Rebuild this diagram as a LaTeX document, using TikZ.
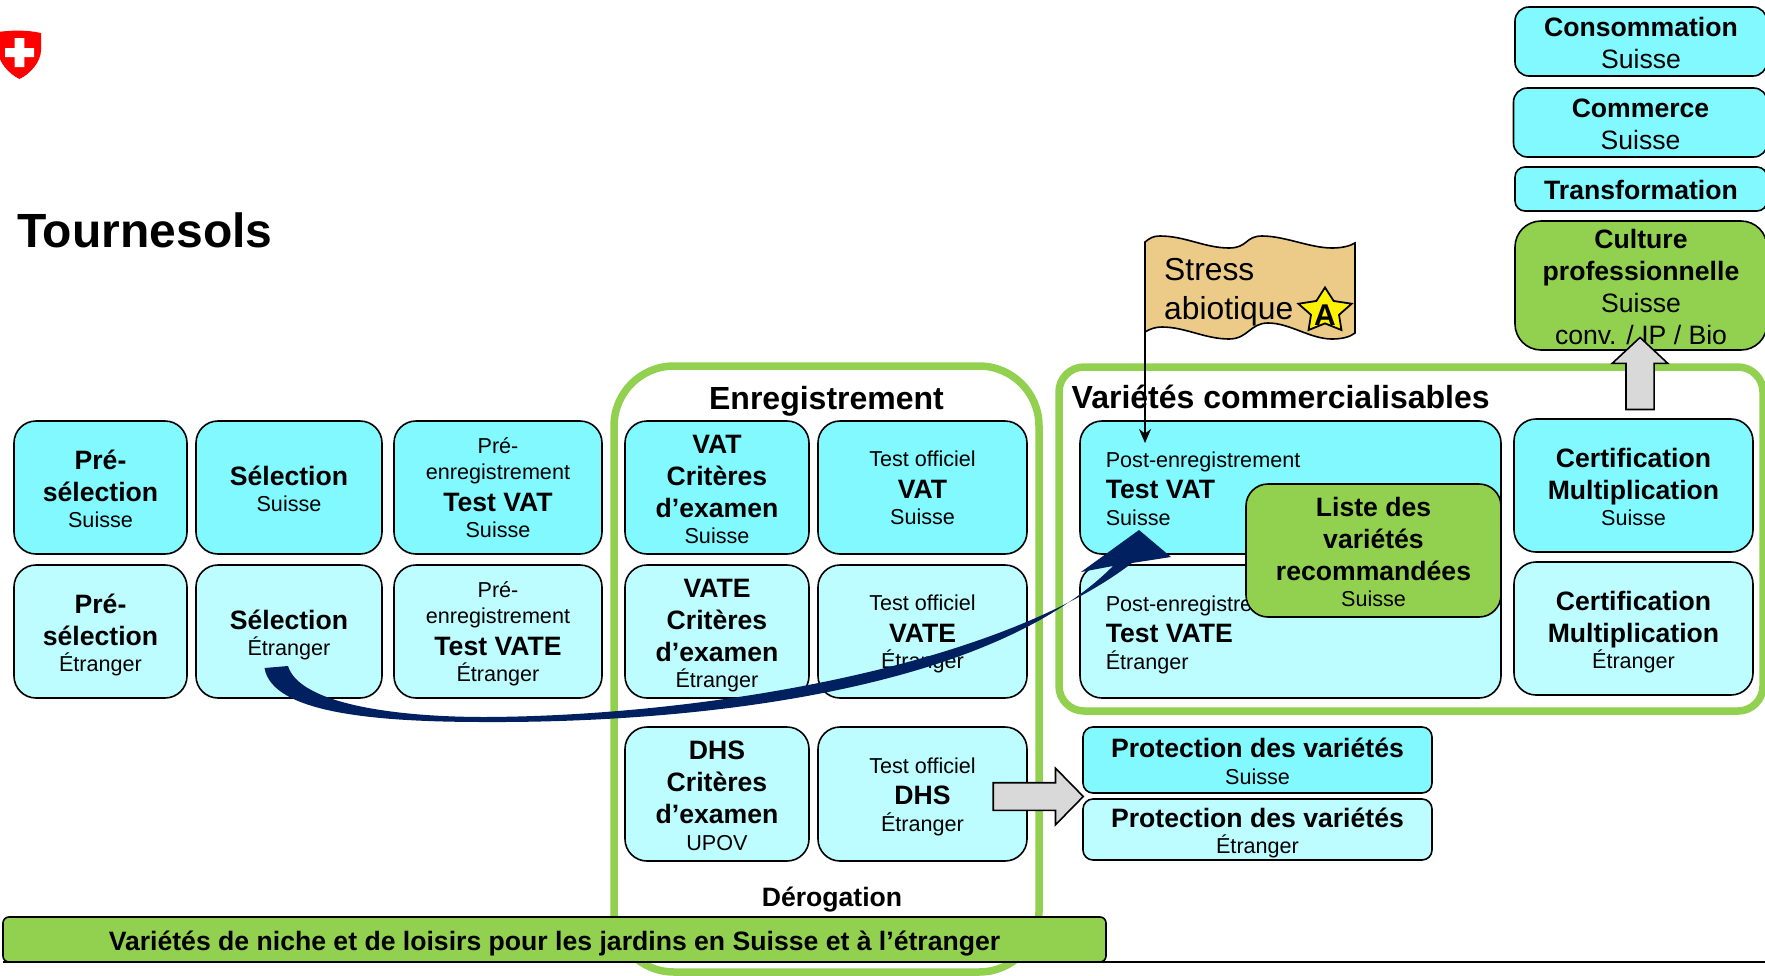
\documentclass[tikz,border=0pt]{standalone}
\usepackage{fontspec}
\setmainfont{Liberation Sans}
\usetikzlibrary{arrows.meta,calc,positioning,shapes.arrows,shapes.geometric}
\definecolor{swisscol}{HTML}{81F9FF}
\definecolor{abroadcol}{HTML}{BDFCFF}
\definecolor{cropgreen}{HTML}{92D050}
\definecolor{flagcol}{HTML}{EBCB87}
\definecolor{arrowgray}{HTML}{D9D9D9}
\definecolor{curvenavy}{HTML}{002060}
\newcommand{\bl}[1]{{\fontsize{26.6pt}{32pt}\bfseries\rule[-8pt]{0pt}{32pt}\raisebox{-2.5pt}[0pt][0pt]{#1}}}
\newcommand{\sm}[1]{{\fontsize{21.6pt}{26pt}\selectfont\rule[-6pt]{0pt}{26pt}\raisebox{-1pt}[0pt][0pt]{#1}}}
\newcommand{\md}[1]{{\fontsize{26.6pt}{32pt}\selectfont\rule[-8pt]{0pt}{32pt}\raisebox{-2.5pt}[0pt][0pt]{#1}}}
\tikzset{
  cell/.style={draw=black,line width=1.6pt,rounded corners=22pt,align=center,inner sep=0pt,
    font={\baselineskip=0pt\lineskip=0pt\lineskiplimit=0pt}},
  swiss/.style={cell,fill=swisscol},
  abroad/.style={cell,fill=abroadcol},
  crop/.style={cell,fill=cropgreen},
  wh/.style 2 args={minimum width=#1pt,minimum height=#2pt},
  greenframe/.style={draw=cropgreen,line width=7.5pt},
  blockarrow/.style={draw=black,line width=1.6pt,fill=arrowgray,single arrow,inner xsep=0pt,inner ysep=0pt},
  heading/.style={inner sep=0pt,font=\fontsize{32pt}{38pt}\bfseries}
}
\begin{document}
\begin{tikzpicture}[x=1pt,y=-1pt]
\useasboundingbox (0,0) rectangle (1765,975);
% shield
\fill[red] (-2,32) .. controls (12,30) and (28,30) .. (41,33) -- (41,50) .. controls (41,62) and (30,74) .. (19.5,79) .. controls (9,74) and (-2,62) .. (-2,50) -- cycle;
\fill[white] (14.7,38) rectangle (24.3,67) (5,48) rectangle (34,57);
\node[heading,anchor=west,font=\fontsize{48pt}{56pt}\bfseries] (title) at (17,230) {Tournesols};
% frames
\draw[greenframe,rounded corners=60pt] (614,366) rectangle (1039,972);
\draw[greenframe,rounded corners=25pt] (1059,367) rectangle (1763,711);
\node[heading] (enreg) at (826.5,401) {Enregistrement};
\node[heading,anchor=west] (comm) at (1071.5,397) {Variétés commercialisables};
\node[inner sep=0pt,font=\fontsize{26.6pt}{32pt}\bfseries] (derog) at (832,900) {Dérogation};
% left columns
\node[swiss,wh={173}{133}] (presch) at (100.5,487.5) {\bl{Pré-}\\\bl{sélection}\\\sm{Suisse}};
\node[swiss,wh={186}{133}] (selch) at (289,487.5) {\bl{Sélection}\\\sm{Suisse}};
\node[swiss,wh={208}{133}] (prevat) at (498,487.5) {\sm{Pré-}\\\sm{enregistrement}\\\bl{Test VAT}\\\sm{Suisse}};
\node[abroad,wh={173}{133}] (preet) at (100.5,631.5) {\bl{Pré-}\\\bl{sélection}\\\sm{Étranger}};
\node[abroad,wh={186}{133}] (selet) at (289,631.5) {\bl{Sélection}\\\sm{Étranger}};
\node[abroad,wh={208}{133}] (prevate) at (498,631.5) {\sm{Pré-}\\\sm{enregistrement}\\\bl{Test VATE}\\\sm{Étranger}};
% enregistrement
\node[swiss,wh={184}{133}] (critvat) at (717,487.5) {\bl{VAT}\\\bl{Critères}\\\bl{d’examen}\\\sm{Suisse}};
\node[swiss,wh={209}{133}] (offvat) at (922.5,487.5) {\sm{Test officiel}\\\bl{VAT}\\\sm{Suisse}};
\node[abroad,wh={184}{133}] (critvate) at (717,631.5) {\bl{VATE}\\\bl{Critères}\\\bl{d’examen}\\\sm{Étranger}};
\node[abroad,wh={209}{133}] (offvate) at (922.5,631.5) {\sm{Test officiel}\\\bl{VATE}\\\sm{Étranger}};
\node[abroad,wh={184}{134}] (critdhs) at (717,794) {\bl{DHS}\\\bl{Critères}\\\bl{d’examen}\\\sm{UPOV}};
\node[abroad,wh={209}{134}] (offdhs) at (922.5,794) {\sm{Test officiel}\\\bl{DHS}\\\sm{Étranger}};
% commercialisables
\node[swiss,wh={421}{133}] (postvat) at (1290.5,487.5) {};
\node[abroad,wh={421}{133}] (postvate) at (1290.5,631.5) {};
\node[cell,draw=none,rounded corners=0pt,fill=none,anchor=west,align=left] (postvattxt) at (1105,488) {\sm{Post-enregistrement}\\\bl{Test VAT}\\\sm{Suisse}};
\node[cell,draw=none,rounded corners=0pt,fill=none,anchor=west,align=left] (postvatetxt) at (1105,632) {\sm{Post-enregistrement}\\\bl{Test VATE}\\\sm{Étranger}};
\node[crop,wh={255}{133}] (liste) at (1373.5,550.5) {\bl{Liste des}\\\bl{variétés}\\\bl{recommandées}\\\sm{Suisse}};
\node[swiss,wh={239}{133}] (certch) at (1633.5,485.5) {\bl{Certification}\\\bl{Multiplication}\\\sm{Suisse}};
\node[abroad,wh={239}{133}] (certet) at (1633.5,628.5) {\bl{Certification}\\\bl{Multiplication}\\\sm{Étranger}};
% protection
\node[swiss,wh={349}{66},rounded corners=10pt] (protch) at (1257.5,760) {\bl{Protection des variétés}\\\sm{Suisse}};
\node[abroad,wh={349}{61},rounded corners=10pt] (protet) at (1257.5,829.5) {\bl{Protection des variétés}\\\sm{Étranger}};
% chain on the right
\node[swiss,wh={252}{69},rounded corners=14pt] (conso) at (1641,41.5) {\bl{Consommation}\\\md{Suisse}};
\node[swiss,wh={254}{69},rounded corners=14pt] (comce) at (1640.5,122.5) {\bl{Commerce}\\\md{Suisse}};
\node[swiss,wh={252}{44},rounded corners=10pt] (transf) at (1641,189) {\bl{Transformation}};
\node[crop,wh={252}{129},rounded corners=26pt] (cultpro) at (1641,285.5) {\bl{Culture}\\\bl{professionnelle}\\\md{Suisse}\\\md{conv. / IP / Bio}};
% block arrows
\node[blockarrow,rotate=90,minimum height=72pt,single arrow head extend=13.75pt,single arrow tip angle=94] (uparrow) at (1640,380) {\rule{0pt}{26.5pt}};
\node[blockarrow,minimum height=90pt,single arrow head extend=14.5pt,single arrow tip angle=91] (dhsarrow) at (1031.5,796.5) {\rule{0pt}{26pt}};
% flag
\draw[fill=flagcol,line width=1.6pt] (1145,242) .. controls (1150,238) and (1153,236) .. (1160,236) .. controls (1185,236) and (1205,248) .. (1229,248) .. controls (1248,248) and (1245,236) .. (1262,236) .. controls (1285,236) and (1310,248) .. (1332,248) .. controls (1342,248) and (1350,246) .. (1355,243) -- (1355,333) .. controls (1350,337) and (1342,339) .. (1332,339) .. controls (1310,339) and (1290,323) .. (1268,323) .. controls (1250,323) and (1248,339) .. (1229,339) .. controls (1205,339) and (1185,327) .. (1162,327) .. controls (1155,327) and (1150,329) .. (1145,332) -- cycle;
\node[inner sep=0pt,anchor=west,align=left,font=\fontsize{31.8pt}{39pt}\selectfont] (stress) at (1164,292) {Stress\\abiotique};
\begin{scope}[shift={(1325,311)},yscale=.84]
\node[star,star points=5,star point ratio=1.9,draw=black,fill=yellow,line width=1.8pt,minimum size=56pt,inner sep=0pt,transform shape] (badge) {};
\end{scope}
\node[inner sep=0pt,font=\fontsize{30pt}{36pt}\bfseries] (badgetxt) at (1325,315) {A};
\coordinate (flagfoot) at (1145,332);
\coordinate (postentry) at (1145,443);
\draw[-{Stealth[length=14pt,width=12pt]},line width=1.4pt] (flagfoot) -- (postentry);
% curved arrow
\fill[curvenavy] (264.5,668) .. controls (272,712) and (370,722) .. (485,722) .. controls (700,723) and (990,690) .. (1113,566) -- (1081,572) -- (1139,530) -- (1171,557) -- (1132,563) .. controls (995,668) and (700,716) .. (485,717) .. controls (400,717) and (300,705) .. (288,666) -- cycle;
% bottom
\coordinate (ruleend) at (1765,962);
\coordinate (rulestart) at (3,962);
\draw[line width=1.4pt] (rulestart) -- (ruleend);
\node[crop,wh={1103}{45},rounded corners=6pt] (niche) at (554.5,939.5) {\bl{Variétés de niche et de loisirs pour les jardins en Suisse et à l’étranger}};
\end{tikzpicture}
\end{document}
